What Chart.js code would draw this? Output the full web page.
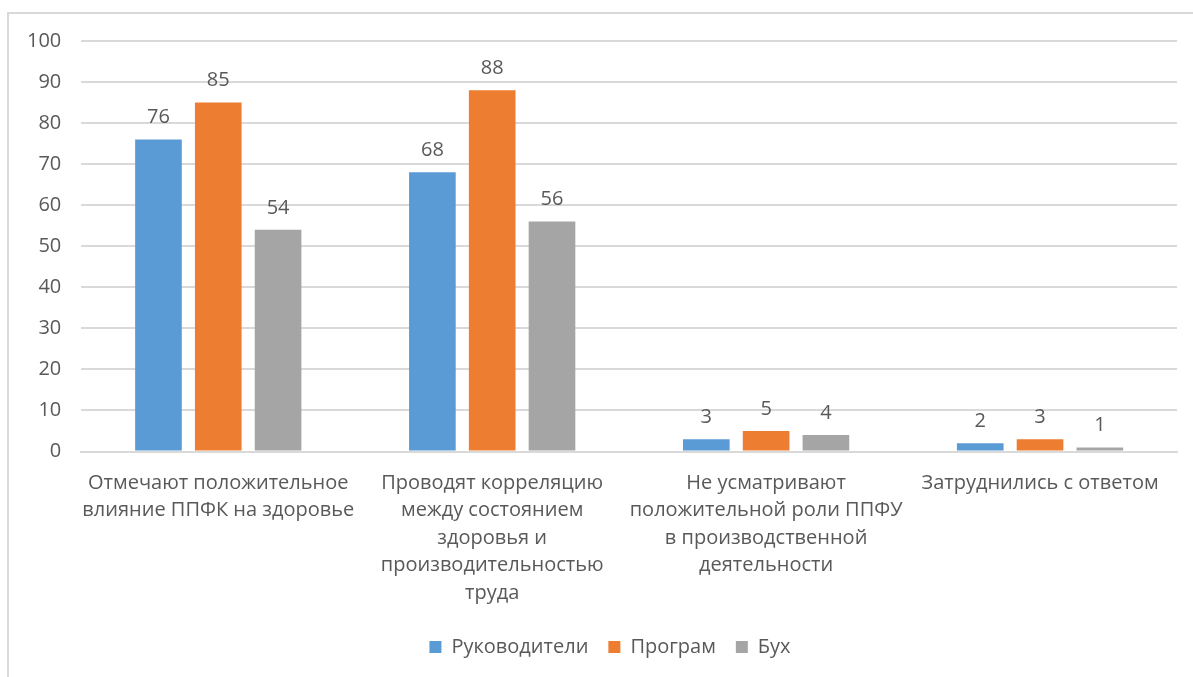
<!DOCTYPE html>
<html>
<head>
<meta charset="utf-8">
<script src="https://cdn.jsdelivr.net/npm/chart.js@4"></script>
<style>
  html, body { margin: 0; padding: 0; background: #fff; overflow: hidden; }
  #frame { position: absolute; left: 7px; top: 12px; width: 1300px; height: 800px;
           border-left: 2px solid #d9d9d9; border-top: 2px solid #d9d9d9; }
  #box { position: absolute; left: 0; top: 0; width: 1193px; height: 677px; }
</style>
</head>
<body>
<div id="frame"></div>
<div id="box"><canvas id="chart"></canvas></div>
<script>
const categories = [
    ["Отмечают положительное", "влияние ППФК на здоровье"],
    ["Проводят корреляцию", "между состоянием", "здоровья и", "производительностью", "труда"],
    ["Не усматривают", "положительной роли ППФУ", "в производственной", "деятельности"],
    "Затруднились с ответом"
];
const seriesNames = ["Руководители", "Програм", "Бух"];
const managers = [76, 68, 3, 2];
const programmers = [85, 88, 5, 3];
const accountants = [54, 56, 4, 1];
const seriesColors = ["#5B9BD5", "#ED7D31", "#A5A5A5"];
const yTicks = [0, 10, 20, 30, 40, 50, 60, 70, 80, 90, 100];

const textColor = "#595959";
const font = { family: "Open Sans", size: 20 };

// value labels above each bar, legend nudged right like the original
const barLabels = {
    id: "barLabels",
    afterLayout(chart) {
        chart.legend.left += 18;
        chart.legend.right += 18;
    },
    afterDatasetsDraw(chart) {
        const ctx = chart.ctx;
        ctx.save();
        ctx.font = font.size + "px " + font.family;
        ctx.fillStyle = textColor;
        ctx.textAlign = "center";
        ctx.textBaseline = "bottom";
        chart.data.datasets.forEach((ds, i) => {
            chart.getDatasetMeta(i).data.forEach((bar, j) => {
                ctx.fillText(ds.data[j], bar.x, bar.y - 12);
            });
        });
        ctx.restore();
    }
};

const seriesData = [managers, programmers, accountants];

new Chart(document.getElementById("chart"), {
    type: "bar",
    data: {
        labels: categories,
        datasets: seriesNames.map((name, i) => ({
            label: name,
            data: seriesData[i],
            backgroundColor: seriesColors[i],
            barPercentage: 0.78,
            categoryPercentage: 0.655
        }))
    },
    options: {
        responsive: true,
        maintainAspectRatio: false,
        animation: false,
        layout: { padding: { left: 7, right: 16, top: 41, bottom: 10 } },
        plugins: {
            tooltip: { enabled: false },
            legend: {
                position: "bottom",
                labels: {
                    color: textColor,
                    font: font,
                    boxWidth: 12,
                    boxHeight: 12,
                    padding: 20
                }
            }
        },
        scales: {
            x: {
                grid: { display: false },
                border: { color: "#d9d9d9", width: 2 },
                ticks: {
                    color: textColor,
                    font: Object.assign({ lineHeight: 1.375 }, font),
                    maxRotation: 0,
                    autoSkip: false,
                    padding: 10
                }
            },
            y: {
                min: 0,
                max: 100,
                afterBuildTicks: axis => { axis.ticks = yTicks.map(v => ({ value: v })); },
                grid: { color: "#d9d9d9", lineWidth: 2, drawTicks: false },
                border: { display: false },
                ticks: { color: textColor, font: font, padding: 20 }
            }
        }
    },
    plugins: [barLabels]
});
</script>
</body>
</html>
